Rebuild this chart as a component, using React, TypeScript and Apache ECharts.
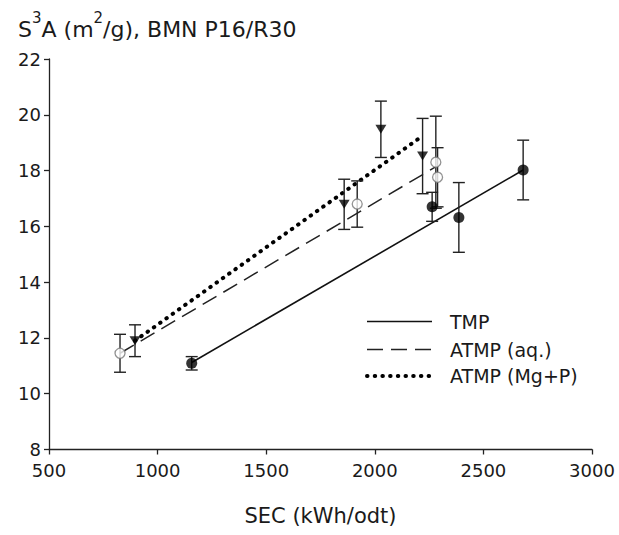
import React, { useEffect, useRef } from "react";
import * as echarts from "echarts";

// Axis settings (tick labels)
const xMin = 500;
const xMax = 3000;
const xStep = 500;
const yMin = 8;
const yMax = 22;
const yStep = 2;

// Legend entries
const legendNames = ["TMP", "ATMP (aq.)", "ATMP (Mg+P)"];

// TMP (filled circles)
const tmpX = [1157, 2264, 2387, 2683];
const tmpY = [11.09, 16.7, 16.32, 18.02];
const tmpErr = [0.24, 0.52, 1.25, 1.07];

// ATMP (aq.) (open circles)
const aqX = [827, 1919, 2281, 2289];
const aqY = [11.45, 16.8, 18.3, 17.76];
const aqErr = [0.68, 0.83, 1.65, 1.06];

// ATMP (Mg+P) (down triangles)
const mgX = [896, 1859, 2028, 2220];
const mgY = [11.9, 16.79, 19.48, 18.52];
const mgErr = [0.57, 0.9, 1.01, 1.35];

// Trend line end points
const tmpFitX = [1157, 2683];
const tmpFitY = [11.12, 18.02];
const aqFitX = [827, 2284];
const aqFitY = [11.45, 18.15];
const mgFitX = [896, 2200];
const mgFitY = [11.9, 19.13];

const FONT = "DejaVu Sans";
const INK = "#1a1a1a";

const pts = (xs: number[], ys: number[]) => xs.map((x, i) => [x, ys[i]]);
const bars = (xs: number[], ys: number[], es: number[]) =>
  xs.map((x, i) => [x, ys[i] - es[i], ys[i] + es[i]]);

const errRender = (params: any, api: any) => {
  const x = api.value(0);
  const lo = api.value(1);
  const hi = api.value(2);
  const t = api.coord([x, hi]);
  const b = api.coord([x, lo]);
  const w = 6;
  const st = { stroke: "#222", lineWidth: 1.4 };
  return {
    type: "group",
    children: [
      { type: "line", shape: { x1: t[0], y1: t[1], x2: b[0], y2: b[1] }, style: st },
      { type: "line", shape: { x1: t[0] - w, y1: t[1], x2: t[0] + w, y2: t[1] }, style: st },
      { type: "line", shape: { x1: b[0] - w, y1: b[1], x2: b[0] + w, y2: b[1] }, style: st },
    ],
  };
};

const lineStyles = [
  { stroke: "#111", lineWidth: 1.6 },
  { stroke: "#222", lineWidth: 1.5, lineDash: [16, 8] },
  { stroke: "#000", lineWidth: 4, lineDash: [0.5, 7.2], lineCap: "round" },
];

export default function App() {
  const ref = useRef<HTMLDivElement>(null);
  useEffect(() => {
    if (!ref.current) return;
    const chart = echarts.init(ref.current, undefined, { renderer: "svg" });
    const legendY = [321.5, 349.5, 376];
    const legendGraphics: any[] = [];
    legendNames.forEach((nm, i) => {
      legendGraphics.push({
        type: "line",
        shape: { x1: 367, y1: legendY[i], x2: 432, y2: legendY[i] },
        style: lineStyles[i],
      });
      legendGraphics.push({
        type: "text",
        x: 450,
        y: legendY[i],
        style: {
          text: nm,
          fontFamily: FONT,
          fontSize: 19,
          fill: INK,
          verticalAlign: "middle",
          align: "left",
        },
      });
    });
    chart.setOption({
      animation: false,
      backgroundColor: "#fff",
      title: {
        text: "{n|S}{s|3}{n|A (m}{s|2}{n|/g), BMN P16/R30}",
        left: 13,
        top: 5,
        textStyle: {
          rich: {
            n: { fontFamily: FONT, fontSize: 22, fontWeight: "normal", color: INK, lineHeight: 30, verticalAlign: "bottom" },
            s: { fontFamily: FONT, fontSize: 15, fontWeight: "normal", color: INK, lineHeight: 16, verticalAlign: "top" },
          },
        },
      },
      grid: { left: 49, right: 27, top: 59, bottom: 85.5 },
      xAxis: {
        type: "value",
        min: xMin,
        max: xMax,
        interval: xStep,
        name: "SEC (kWh/odt)",
        nameLocation: "middle",
        nameGap: 56,
        nameTextStyle: { fontFamily: FONT, fontSize: 21, color: INK },
        axisLine: { show: true, lineStyle: { color: "#222", width: 1.3 } },
        axisTick: { show: true, length: 5, lineStyle: { color: "#222", width: 1.3 } },
        axisLabel: { fontFamily: FONT, fontSize: 18, color: INK, margin: 12, formatter: (v: number) => String(v) },
        splitLine: { show: false },
      },
      yAxis: {
        type: "value",
        min: yMin,
        max: yMax,
        interval: yStep,
        axisLine: { show: true, lineStyle: { color: "#222", width: 1.3 } },
        axisTick: { show: true, length: 5, lineStyle: { color: "#222", width: 1.3 } },
        axisLabel: { fontFamily: FONT, fontSize: 18, color: INK, margin: 8 },
        splitLine: { show: false },
      },
      graphic: legendGraphics,
      series: [
        {
          name: legendNames[0],
          type: "line",
          data: pts(tmpFitX, tmpFitY),
          symbol: "none",
          lineStyle: { color: "#111", width: 1.6, type: "solid" },
          z: 2,
        },
        {
          name: legendNames[1],
          type: "line",
          data: pts(aqFitX, aqFitY),
          symbol: "none",
          lineStyle: { color: "#222", width: 1.5, type: [16, 8] },
          z: 2,
        },
        {
          name: legendNames[2],
          type: "line",
          data: pts(mgFitX, mgFitY),
          symbol: "none",
          lineStyle: { color: "#000", width: 4, type: [0.5, 7.2], cap: "round" },
          z: 2,
        },
        {
          name: "errTMP",
          type: "custom",
          renderItem: errRender,
          data: bars(tmpX, tmpY, tmpErr),
          encode: { x: 0, y: [1, 2] },
          z: 3,
        },
        {
          name: "errAQ",
          type: "custom",
          renderItem: errRender,
          data: bars(aqX, aqY, aqErr),
          encode: { x: 0, y: [1, 2] },
          z: 3,
        },
        {
          name: "errMG",
          type: "custom",
          renderItem: errRender,
          data: bars(mgX, mgY, mgErr),
          encode: { x: 0, y: [1, 2] },
          z: 3,
        },
        {
          name: "ptsTMP",
          type: "scatter",
          data: pts(tmpX, tmpY),
          symbol: "circle",
          symbolSize: 11,
          itemStyle: { color: "#000" },
          z: 5,
        },
        {
          name: "ptsAQ",
          type: "scatter",
          data: pts(aqX, aqY),
          symbol: "circle",
          symbolSize: 10,
          itemStyle: { color: "#fff", borderColor: "#777", borderWidth: 1.3 },
          z: 5,
        },
        {
          name: "ptsMG",
          type: "scatter",
          data: pts(mgX, mgY),
          symbol: "triangle",
          symbolRotate: 180,
          symbolSize: [11, 9],
          itemStyle: { color: "#000" },
          z: 5,
        },
      ],
    });
    return () => chart.dispose();
  }, []);
  return <div ref={ref} style={{ width: 619, height: 535, position: "absolute", left: 0, top: 0 }} />;
}
